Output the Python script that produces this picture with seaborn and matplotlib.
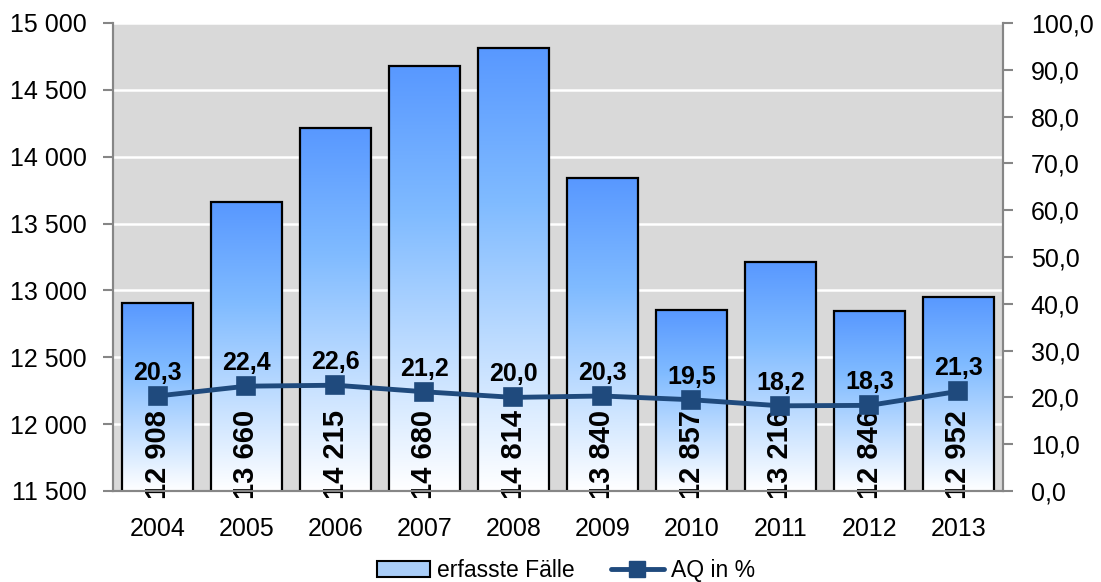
import numpy as np
import pandas as pd
import seaborn as sns
import matplotlib.pyplot as plt
from matplotlib.patches import Patch
from matplotlib.lines import Line2D
from matplotlib.colors import LinearSegmentedColormap

years = ['2004', '2005', '2006', '2007', '2008', '2009', '2010', '2011', '2012', '2013']
faelle = [12908, 13660, 14215, 14680, 14814, 13840, 12857, 13216, 12846, 12952]
aq = [20.3, 22.4, 22.6, 21.2, 20.0, 20.3, 19.5, 18.2, 18.3, 21.3]

df = pd.DataFrame({'Jahr': years, 'Faelle': faelle, 'AQ': aq})

sns.set_style('white')
plt.rcParams['font.family'] = ['Liberation Sans', 'DejaVu Sans']
plt.rcParams['text.color'] = 'black'
plt.rcParams['xtick.color'] = 'black'
plt.rcParams['ytick.color'] = 'black'

LINE = '#1f4a7d'
GREY = '#868686'
grad = LinearSegmentedColormap.from_list('g', [(0, '#5898ff'), (0.35, '#80bbff'), (1, '#ffffff')])

fig = plt.figure(figsize=(11.01, 5.82), dpi=100)
ax = fig.add_axes([113 / 1101, 1 - 491 / 582, (1003 - 113) / 1101, (491 - 23) / 582])
ax.set_facecolor('#d9d9d9')

sns.barplot(data=df, x='Jahr', y='Faelle', ax=ax, width=0.79, color='#80bbff')
ax.set_ylim(11500, 15000)
ax.set_xlim(-0.5, 9.5)

# gradient fill for each bar
img = grad(np.linspace(0, 1, 256))[:, :3].reshape(256, 1, 3)
for p in ax.patches:
    x0, w, h = p.get_x(), p.get_width(), p.get_height()
    p.set_facecolor('none')
    p.set_edgecolor('black')
    p.set_linewidth(1.6)
    p.set_zorder(3)
    im = ax.imshow(img, extent=(x0, x0 + w, 11500, h), aspect='auto', zorder=2,
                   interpolation='bilinear')
    im.set_clip_path(p)
ax.set_ylim(11500, 15000)
ax.set_xlim(-0.5, 9.5)

# vertical value labels, cut off at the bottom of the plot area
for i, v in enumerate(faelle):
    t = ax.annotate(f'{v:,}'.replace(',', ' '), xy=(i, 11500), xytext=(0, -6),
                    textcoords='offset points', rotation=90, ha='center', va='bottom',
                    fontsize=21, fontweight='bold', annotation_clip=False, zorder=4)
    t.set_clip_on(True)

ax.set_yticks(np.arange(11500, 15001, 500))
ax.set_yticklabels([f'{int(v):,}'.replace(',', ' ') for v in np.arange(11500, 15001, 500)])
ax.yaxis.grid(True, color='white', lw=1.8)
ax.set_axisbelow(True)
ax.set_xlabel('')
ax.set_ylabel('')

ax.set_xticks(np.arange(-0.5, 10, 1))
ax.set_xticklabels([])
ax.set_xticks(np.arange(10), minor=True)
ax.set_xticklabels(years, minor=True)
ax.tick_params(axis='x', which='minor', length=0, labelsize=18, pad=19)
ax.tick_params(axis='x', which='major', length=7, color=GREY, width=1.5)
ax.tick_params(axis='y', length=7, color=GREY, width=1.5, labelsize=18, pad=12)

ax2 = ax.twinx()
sns.pointplot(data=df, x='Jahr', y='AQ', ax=ax2, color=LINE, markers='s',
              markersize=12, linewidth=3.5, errorbar=None)
ax2.set_ylim(0, 100)
ax2.set_xlim(-0.5, 9.5)
ax2.set_yticks(np.arange(0, 101, 10))
ax2.set_yticklabels([f'{v:.1f}'.replace('.', ',') for v in np.arange(0, 101, 10)])
ax2.set_ylabel('')
ax2.set_xlabel('')
ax2.tick_params(axis='y', length=7, color=GREY, width=1.5, labelsize=18, pad=13)
for i, v in enumerate(aq):
    ax2.annotate(f'{v:.1f}'.replace('.', ','), xy=(i, v), xytext=(0, 8),
                 textcoords='offset points', ha='center', va='bottom',
                 fontsize=18, fontweight='bold')

for a in (ax, ax2):
    a.spines['top'].set_visible(False)
    for s in ('left', 'right', 'bottom'):
        a.spines[s].set_color(GREY)
        a.spines[s].set_linewidth(1.5)
ax2.tick_params(axis='x', which='both', length=0, labelbottom=False)

handles = [Patch(facecolor='#a9cdf7', edgecolor='black', linewidth=1.5),
           Line2D([], [], color=LINE, marker='s', lw=3.5, ms=12)]
fig.legend(handles, ['erfasste Fälle', 'AQ in %'], loc='lower center',
           bbox_to_anchor=(0.514, -0.035), ncol=2, frameon=False, fontsize=16.5,
           handlelength=2.3, handletextpad=0.3, columnspacing=1.6)

fig.savefig('out.png', dpi=100)
